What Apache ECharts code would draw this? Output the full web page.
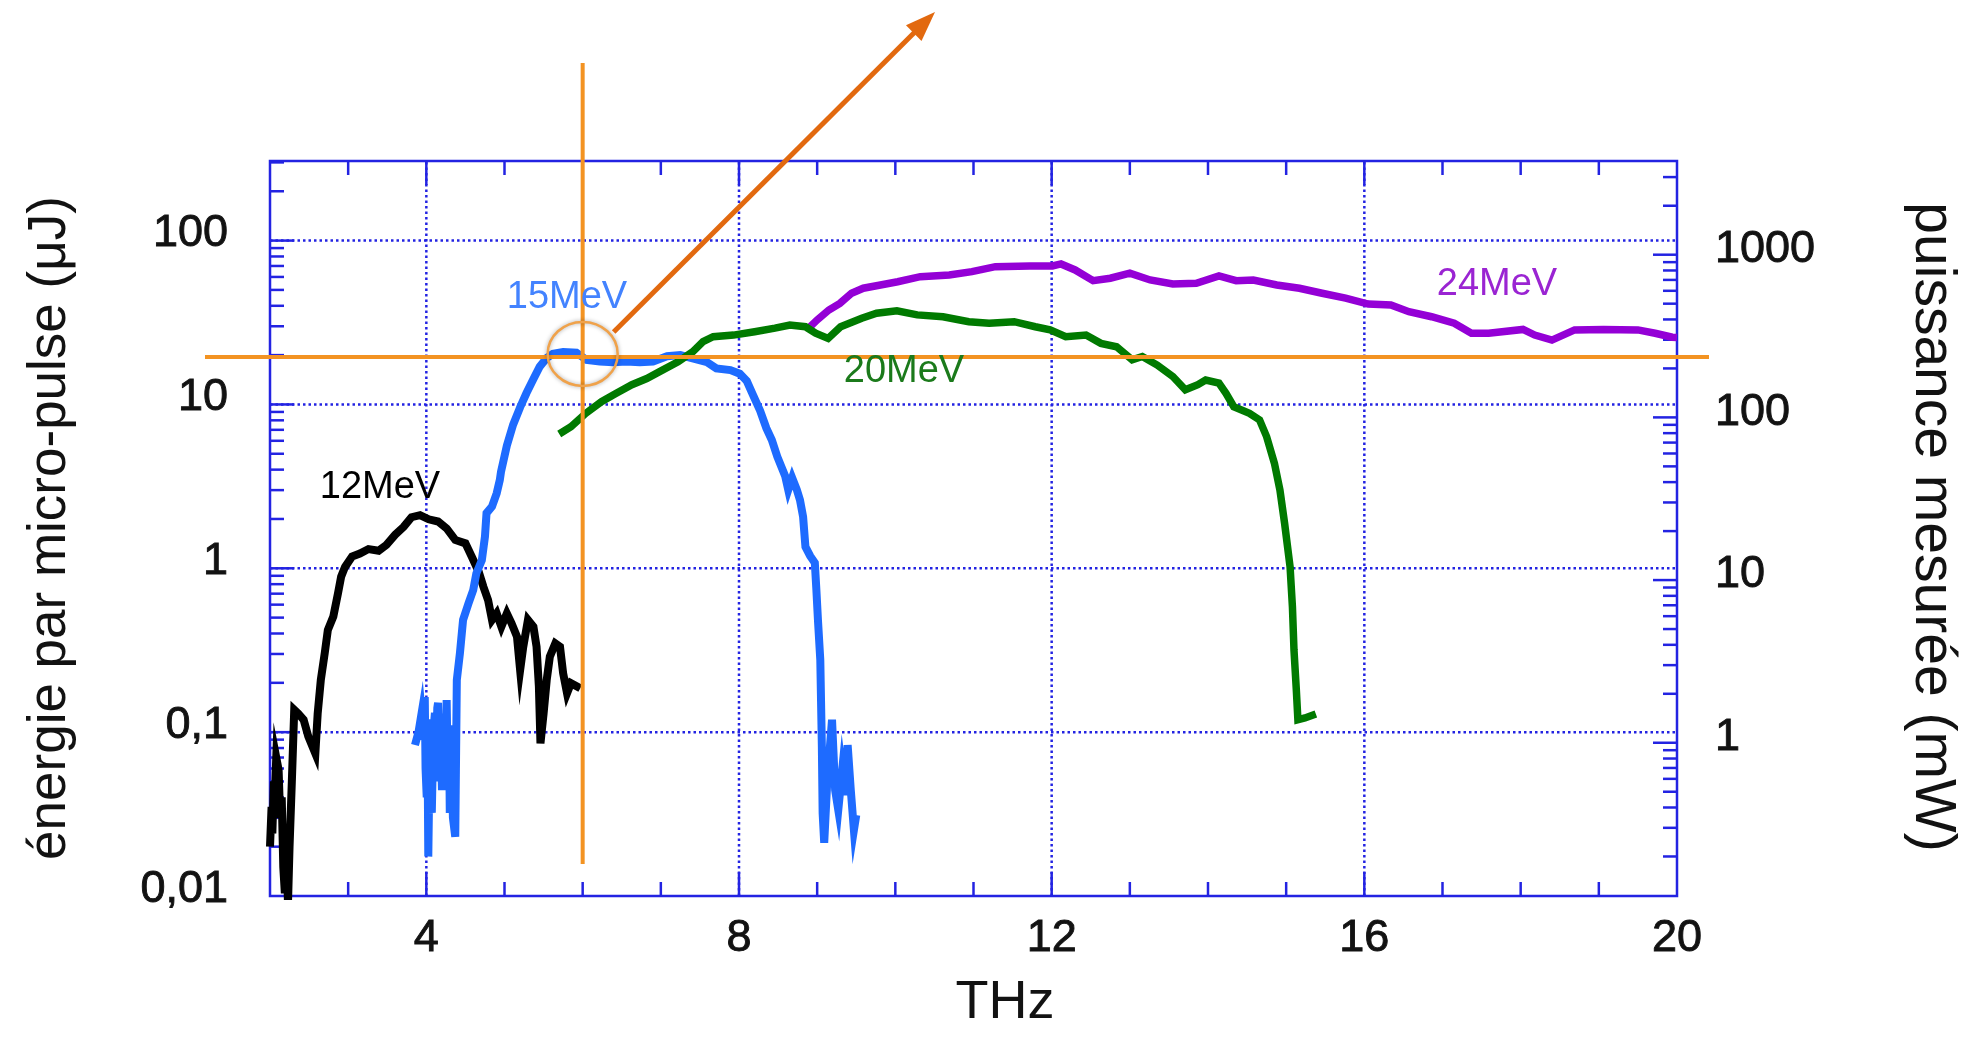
<!DOCTYPE html>
<html><head><meta charset="utf-8">
<script src="https://cdn.jsdelivr.net/npm/echarts@6/dist/echarts.min.js"></script>
<style>html,body{margin:0;padding:0;background:#fff}#c{width:1970px;height:1038px}</style>
</head><body><div id="c"></div>
<script>
// ---------- data (THz, µJ) ----------
const x12=[2.00,2.02,2.03,2.05,2.06,2.08,2.11,2.13,2.15,2.17,2.19,2.21,2.23,2.25,2.28,2.31,2.36,2.43,2.49,2.58,2.61,2.65,2.70,2.74,2.81,2.87,2.91,2.96,3.05,3.15,3.26,3.39,3.49,3.60,3.71,3.81,3.92,4.03,4.15,4.26,4.37,4.50,4.58,4.67,4.73,4.79,4.84,4.90,4.96,5.03,5.09,5.16,5.20,5.24,5.30,5.37,5.41,5.44,5.46,5.50,5.54,5.58,5.65,5.71,5.75,5.80,5.85,5.97];
const y12=[0.020,0.035,0.024,0.050,0.0385,0.070,0.059,0.030,0.040,0.015,0.0104,0.020,0.009,0.020,0.051,0.137,0.130,0.119,0.094,0.074,0.130,0.208,0.303,0.420,0.507,0.704,0.889,1.02,1.18,1.23,1.31,1.28,1.39,1.60,1.79,2.05,2.11,1.99,1.93,1.75,1.49,1.42,1.18,0.953,0.772,0.640,0.484,0.531,0.440,0.531,0.462,0.382,0.239,0.332,0.484,0.440,0.332,0.189,0.0855,0.130,0.208,0.289,0.348,0.332,0.229,0.173,0.199,0.185];

const x15=[3.855,3.90,3.94,3.97,3.98,3.99,4.005,4.015,4.025,4.04,4.05,4.06,4.07,4.09,4.11,4.12,4.13,4.14,4.15,4.165,4.18,4.20,4.22,4.24,4.26,4.275,4.29,4.30,4.32,4.34,4.37,4.39,4.43,4.47,4.54,4.60,4.64,4.71,4.75,4.77,4.84,4.90,4.94,4.955,5.03,5.11,5.20,5.28,5.37,5.45,5.54,5.62,5.75,5.92,6.05,6.22,6.39,6.56,6.73,6.90,7.08,7.25,7.42,7.59,7.71,7.89,8.01,8.10,8.18,8.27,8.35,8.42,8.49,8.59,8.63,8.68,8.74,8.78,8.82,8.85,8.91,8.97,8.99,9.01,9.04,9.06,9.07,9.09,9.13,9.19,9.23,9.27,9.32,9.36,9.39,9.43,9.47,9.50];
const y15=[0.0834,0.100,0.131,0.090,0.164,0.060,0.040,0.090,0.0174,0.060,0.120,0.040,0.0321,0.100,0.131,0.050,0.0811,0.140,0.151,0.060,0.130,0.0443,0.120,0.060,0.157,0.050,0.110,0.0321,0.080,0.030,0.023,0.208,0.304,0.484,0.611,0.737,0.932,1.12,1.56,2.17,2.38,2.87,3.46,3.87,5.60,7.52,9.62,11.7,14.3,17.0,19.2,20.4,20.9,20.7,18.7,18.3,18.1,18.3,18.1,18.3,19.7,20.0,19.0,18.1,16.6,16.2,15.4,13.9,11.4,9.16,7.16,6.07,4.80,3.66,3.01,3.56,3.01,2.61,2.06,1.35,1.19,1.08,0.737,0.484,0.276,0.0815,0.0321,0.0211,0.051,0.119,0.0443,0.0335,0.0587,0.0413,0.0834,0.0443,0.0253,0.0312];

const x20=[5.70,5.85,6.04,6.24,6.43,6.63,6.82,7.02,7.22,7.41,7.54,7.67,7.93,8.20,8.46,8.65,8.85,8.98,9.14,9.30,9.57,9.76,10.02,10.28,10.61,10.94,11.20,11.52,11.79,11.98,12.18,12.44,12.63,12.83,13.03,13.16,13.35,13.55,13.71,13.87,13.97,14.14,14.23,14.33,14.53,14.66,14.75,14.85,14.92,14.98,15.05,15.08,15.10,15.13,15.15,15.24,15.38];
const y20=[6.60,7.31,8.83,10.4,11.7,13.2,14.4,16.2,18.2,21.0,24.2,25.9,26.5,27.8,29.2,30.5,29.8,27.2,25.3,29.8,33.6,36.0,37.3,35.2,34.3,32.0,31.3,32.0,29.8,28.5,25.9,26.5,23.6,22.5,18.7,19.6,17.4,14.8,12.3,13.2,14.1,13.5,11.7,9.69,8.83,8.04,6.36,4.37,3.01,1.88,1.02,0.583,0.317,0.181,0.119,0.122,0.129];

const x24=[8.89,9.00,9.15,9.29,9.44,9.59,9.81,10.03,10.32,10.69,10.98,11.28,11.72,12.01,12.12,12.30,12.53,12.75,13.00,13.26,13.55,13.85,14.14,14.36,14.58,14.88,15.17,15.46,15.76,16.05,16.34,16.57,16.86,17.15,17.37,17.59,18.03,18.18,18.40,18.69,19.06,19.50,19.72,19.94,20.00];
const y24=[29.2,32.8,37.7,41.4,47.7,51.2,53.6,56.1,60.2,61.7,64.6,69.3,70.0,70.0,72.0,66.2,56.9,58.9,63.2,57.5,54.3,54.9,60.8,56.9,57.5,53.6,51.2,47.7,44.5,41.0,40.5,36.8,34.3,31.3,27.2,27.2,28.7,26.5,24.7,28.5,28.7,28.5,27.2,25.7,25.6];

const seriesNames=['12MeV','15MeV','20MeV','24MeV'];
const xTickLabels=['4','8','12','16','20'];
const leftTickLabels=['0,01','0,1','1','10','100'];   // 10^-2 .. 10^2
const rightTickLabels=['1','10','100','1000'];        // 10^0 .. 10^3
const crossPoint=[6,19.5];

// axis ranges
const X_MIN=2, X_MAX=20;
const YL_MIN=0.01, YL_MAX=306;
const YR_MIN=0.1143, YR_MAX=3767;

// ---------- styling ----------
const FONT='"Liberation Sans", Arial, Helvetica, sans-serif';
const BLUE='#2323e2';
const TXT='#121212';
const zip=(xs,ys)=>xs.map((x,i)=>[x,ys[i]]);
const isDecade=v=>{const e=Math.log10(v);return Math.abs(e-Math.round(e))<1e-6;};

// tick & grid specs (axis furniture)
const minorMult=[2,3,4,5,6,7,8,9];
const tickL=[], tickR=[], gridL=[];
for(let t=3;t<=19;t++){const mj=(t%4===0)?1:0; tickL.push([t,YL_MIN,0,mj]); tickL.push([t,YL_MAX,1,mj]);}
for(let n=-2;n<=2;n++){
  const d=Math.pow(10,n);
  if(n>-2) tickL.push([X_MIN,d,2,1]);
  minorMult.forEach(k=>{const v=k*d; if(v>YL_MIN&&v<YL_MAX) tickL.push([X_MIN,v,2,0]);});
}
for(let n=-1;n<=3;n++){
  const d=Math.pow(10,n);
  if(d>YR_MIN&&d<YR_MAX) tickR.push([X_MAX,d,3,1]);
  minorMult.forEach(k=>{const v=k*d; if(v>YR_MIN&&v<YR_MAX) tickR.push([X_MAX,v,3,0]);});
}
[4,8,12,16].forEach(t=>gridL.push([t,YL_MIN,t,YL_MAX]));
[0.1,1,10,100].forEach(v=>gridL.push([X_MIN,v,X_MAX,v]));

function renderTick(params,api){
  const p=api.coord([api.value(0),api.value(1)]);
  const side=api.value(2), L=api.value(3)?24:14;
  let x2=p[0],y2=p[1];
  if(side===0)y2-=L; else if(side===1)y2+=L; else if(side===2)x2+=L; else x2-=L;
  return {type:'line',shape:{x1:p[0],y1:p[1],x2:x2,y2:y2},style:{stroke:BLUE,lineWidth:2.5}};
}
function renderGrid(params,api){
  const a=api.coord([api.value(0),api.value(1)]), b=api.coord([api.value(2),api.value(3)]);
  return {type:'line',shape:{x1:a[0],y1:a[1],x2:b[0],y2:b[1]},style:{stroke:BLUE,lineWidth:2.5,lineDash:[2.5,3]}};
}

const chart=echarts.init(document.getElementById('c'),null,{renderer:'canvas'});
const lbl={fontSize:45,color:TXT,fontFamily:FONT,textBorderColor:TXT,textBorderWidth:0.9};
const lineSeries=(name,data,color,w)=>({type:'line',name,data,showSymbol:false,symbol:'none',
  lineStyle:{color,width:w,join:'miter'},xAxisIndex:0,yAxisIndex:0,z:3,clip:true,animation:false});

chart.setOption({
  animation:false,
  backgroundColor:'#fff',
  grid:{left:270,right:293,top:161,bottom:142,show:true,borderColor:BLUE,borderWidth:2.5,backgroundColor:'transparent'},
  xAxis:[{type:'value',min:X_MIN,max:X_MAX,interval:2,position:'bottom',
    axisLine:{show:false},axisTick:{show:false},splitLine:{show:false},
    axisLabel:Object.assign({margin:20,formatter:v=>xTickLabels.includes(String(v))?String(v):''},lbl)}],
  yAxis:[
    {type:'log',logBase:10,min:YL_MIN,max:YL_MAX,position:'left',
     axisLine:{show:false},axisTick:{show:false},splitLine:{show:false},
     axisLabel:Object.assign({margin:42,verticalAlign:'bottom',lineHeight:13,formatter:v=>isDecade(v)?(leftTickLabels[Math.round(Math.log10(v))+2]||''):''},lbl)},
    {type:'log',logBase:10,min:YR_MIN,max:YR_MAX,position:'right',
     axisLine:{show:false},axisTick:{show:false},splitLine:{show:false},
     axisLabel:Object.assign({margin:38,verticalAlign:'bottom',lineHeight:10,formatter:v=>isDecade(v)?(rightTickLabels[Math.round(Math.log10(v))]||''):''},lbl)}
  ],
  series:[
    {type:'custom',name:'grid',data:gridL,renderItem:renderGrid,xAxisIndex:0,yAxisIndex:0,z:1,silent:true},
    {type:'custom',name:'ticksL',data:tickL,renderItem:renderTick,xAxisIndex:0,yAxisIndex:0,z:1,silent:true},
    {type:'custom',name:'ticksR',data:tickR,renderItem:renderTick,xAxisIndex:0,yAxisIndex:1,z:1,silent:true},
    lineSeries(seriesNames[0],zip(x12,y12),'#000000',8),
    lineSeries(seriesNames[1],zip(x15,y15),'#1e6bff',8),
    lineSeries(seriesNames[3],zip(x24,y24),'#9400d6',7.5),
    lineSeries(seriesNames[2],zip(x20,y20),'#007a00',7.5)
  ]
});

// ---------- annotations ----------
const p=chart.convertToPixel({xAxisIndex:0,yAxisIndex:0},crossPoint);
const tip=[935,12], start=[p[0]+31,p[1]-25];
const dx=tip[0]-start[0], dy=tip[1]-start[1], dl=Math.hypot(dx,dy), ux=dx/dl, uy=dy/dl;
const hl=30, hw=11, bx=tip[0]-ux*hl, by=tip[1]-uy*hl;
const txt=(t,x,y,size,color,rot)=>({type:'text',x,y,rotation:rot||0,z:10,
  style:{text:t,fontSize:size,fontFamily:FONT,fill:color,align:'center',verticalAlign:'middle'}});
chart.setOption({graphic:[
  {type:'line',z:8,shape:{x1:205,y1:p[1],x2:1709,y2:p[1]},style:{stroke:'#f39322',lineWidth:4}},
  {type:'line',z:8,shape:{x1:p[0],y1:63,x2:p[0],y2:864},style:{stroke:'#f39322',lineWidth:4}},
  {type:'ellipse',z:9,shape:{cx:p[0],cy:p[1]-3,rx:35,ry:32},style:{fill:'none',stroke:'#f0a24a',lineWidth:2.5,shadowBlur:4,shadowColor:'rgba(0,0,0,0.35)'}},
  {type:'line',z:9,shape:{x1:start[0],y1:start[1],x2:bx+ux*2,y2:by+uy*2},style:{stroke:'#e2690f',lineWidth:5}},
  {type:'polygon',z:9,shape:{points:[tip,[bx-uy*hw,by+ux*hw],[bx+uy*hw,by-ux*hw]]},style:{fill:'#e2690f'}},
  txt(seriesNames[0],380,488,38,'#000000'),
  txt(seriesNames[1],567,298,38,'#4383ff'),
  txt(seriesNames[2],904,372,38,'#1b7a1b'),
  txt(seriesNames[3],1497,285,38,'#9a24d2'),
  txt('THz',1005,1003,54,TXT),
  txt('énergie par micro-pulse (μJ)',50,528,53,TXT,Math.PI/2),
  txt('puissance mesurée (mW)',1932,527,57,TXT,-Math.PI/2)
]});
</script></body></html>
